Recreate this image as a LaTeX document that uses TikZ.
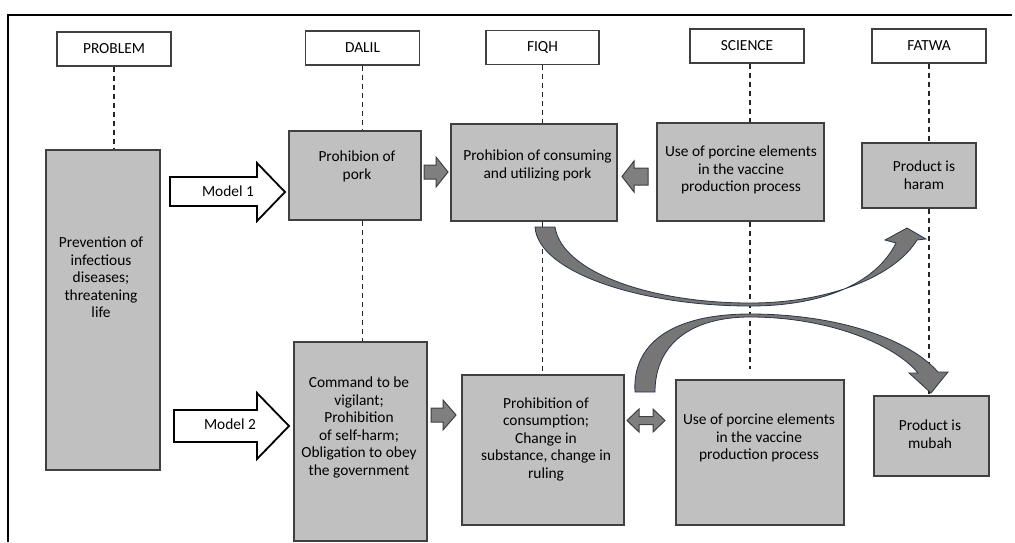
\documentclass[tikz,border=0pt]{standalone}
\usepackage{fontspec}
\setmainfont{Carlito}
\definecolor{boxgray}{HTML}{C0C0C0}
\definecolor{edgegray}{HTML}{404040}
\definecolor{arrgray}{HTML}{7F7F7F}
\definecolor{curvegray}{HTML}{767676}
\definecolor{curveedge}{HTML}{2B3648}
\begin{document}
\begin{tikzpicture}[x=1pt,y=-1pt,font=\fontsize{15.4}{17.5}\selectfont,
  hdr/.style={draw=edgegray,line width=1.4pt,fill=white,minimum width=114pt,minimum height=34pt,inner sep=0pt},
  gbox/.style={draw=edgegray,line width=1.5pt,fill=boxgray,inner sep=0pt},
  txt/.style={align=center,inner sep=0pt},
  guide/.style={draw=black!85,line width=1.7pt,dash pattern=on 5pt off 4pt},
  fatarrow/.style={fill=arrgray,draw=edgegray,line width=1pt,line join=miter},
  modelarrow/.style={fill=white,draw=black,line width=1.8pt,line join=miter},
  curvearrow/.style={fill=curvegray,draw=curveedge,line width=0.8pt,line join=miter}]
\useasboundingbox (0,0) rectangle (1015,542);
% frame
\draw[line width=1.8pt] (8,542) -- (8,15) -- (1012,15);
% headers
\node[hdr] (hprob) at (114,49) {PROBLEM};
\node[hdr] (hdal) at (362.5,48) {DALIL};
\node[hdr,minimum width=113pt] (hfiq) at (542.5,47.5) {FIQH};
\node[hdr] (hsci) at (747,46) {SCIENCE};
\node[hdr] (hfat) at (929,46) {FATWA};
% gray boxes
\node[gbox,minimum width=114pt,minimum height=320pt] (prob) at (103,310) {};
\node[gbox,minimum width=132pt,minimum height=89pt] (pork) at (355,175.5) {};
\node[gbox,minimum width=166pt,minimum height=97pt] (fiqa) at (534,172.5) {};
\node[gbox,minimum width=167pt,minimum height=98pt] (scia) at (740.5,172) {};
\node[gbox,minimum width=114pt,minimum height=65pt] (haram) at (919,175.5) {};
\node[gbox,minimum width=133pt,minimum height=199pt] (cmd) at (360.5,441.5) {};
\node[gbox,minimum width=162pt,minimum height=150pt] (fiqb) at (543,450) {};
\node[gbox,minimum width=168pt,minimum height=145pt] (scib) at (760,452.5) {};
\node[gbox,minimum width=115pt,minimum height=80pt] (mubah) at (931.5,436) {};
% texts
\node[txt] (tprob) at (101,277.5) {Prevention of\\infectious\\diseases;\\threatening\\life};
\node[txt] (tpork) at (357,166.5) {Prohibion of\\pork};
\node[txt] (tfiqa) at (537.5,165.5) {Prohibion of consuming\\and utilizing pork};
\node[txt] (tscia) at (741,170) {Use of porcine elements\\in the vaccine\\production process};
\node[txt] (tharam) at (924,175) {Product is\\haram};
\node[txt] (tcmd) at (359,427.5) {Command to be\\vigilant;\\Prohibition\\of self-harm;\\Obligation to obey\\the government};
\node[txt] (tfiqb) at (546,439) {Prohibition of\\consumption;\\Change in\\substance, change in\\ruling};
\node[txt] (tscib) at (759,438) {Use of porcine elements\\in the vaccine\\production process};
\node[txt] (tmubah) at (930,434) {Product is\\mubah};
% dashed guides
\draw[guide] (hprob.south) -- (hprob.south |- prob.north);
\draw[guide] (hdal.south) -- (hdal.south |- pork.north);
\draw[guide] (hdal.south |- pork.south) -- (hdal.south |- cmd.north);
\draw[guide] (hfiq.south) -- (hfiq.south |- fiqa.north);
\draw[guide] (hfiq.south |- fiqa.south) -- (hfiq.south |- fiqb.north);
\draw[guide] ([xshift=3pt]hsci.south) -- ([xshift=3pt]hsci.south |- scia.north);
\draw[guide,shorten >=10pt] ([xshift=3pt]hsci.south |- scia.south) -- ([xshift=3pt]hsci.south |- scib.north);
\draw[guide] (hfat.south) -- (hfat.south |- haram.north);
\draw[guide] (hfat.south |- haram.south) -- (hfat.south |- mubah.north);
% model arrows
\draw[modelarrow] (170,177) -- (257,177) -- (257,163) -- (285,192) -- (257,221) -- (257,206) -- (170,206) -- cycle;
\node[txt] (m1) at (228,191) {Model 1};
\draw[modelarrow] (174,410) -- (257,410) -- (257,393) -- (289,426) -- (257,459) -- (257,442) -- (174,442) -- cycle;
\node[txt] (m2) at (230,424) {Model 2};
% small arrows
\draw[fatarrow] (424,165) -- (436,165) -- (436,157) -- (448,172) -- (436,187) -- (436,179) -- (424,179) -- cycle;
\draw[fatarrow] (648,168) -- (634,168) -- (634,161) -- (622,176.5) -- (634,192) -- (634,185) -- (648,185) -- cycle;
\draw[fatarrow] (431,408) -- (443,408) -- (443,400) -- (456,415) -- (443,430) -- (443,422) -- (431,422) -- cycle;
\draw[fatarrow] (627,420.5) -- (639,409) -- (639,416.5) -- (653,416.5) -- (653,409) -- (665,420.5) -- (653,432) -- (653,424.5) -- (639,424.5) -- (639,432) -- cycle;
% curved arrows
\draw[curvearrow] (535,227) .. controls (538,272) and (640,306) .. (750,306)
  .. controls (820,306) and (875,285) .. (896,243)
  -- (885,240) -- (907,228) -- (926,239) -- (917,240)
  .. controls (895,276) and (830,303) .. (750,303)
  .. controls (650,303) and (562,272) .. (555,227) -- cycle;
\draw[curvearrow] (635,392) .. controls (632,345) and (670,314) .. (750,314)
  .. controls (840,314) and (910,340) .. (938,372)
  -- (948,372) -- (931,393) -- (909,373) -- (918,373)
  .. controls (895,345) and (830,317) .. (750,317)
  .. controls (690,317) and (655,345) .. (655,392) -- cycle;
\end{tikzpicture}
\end{document}
